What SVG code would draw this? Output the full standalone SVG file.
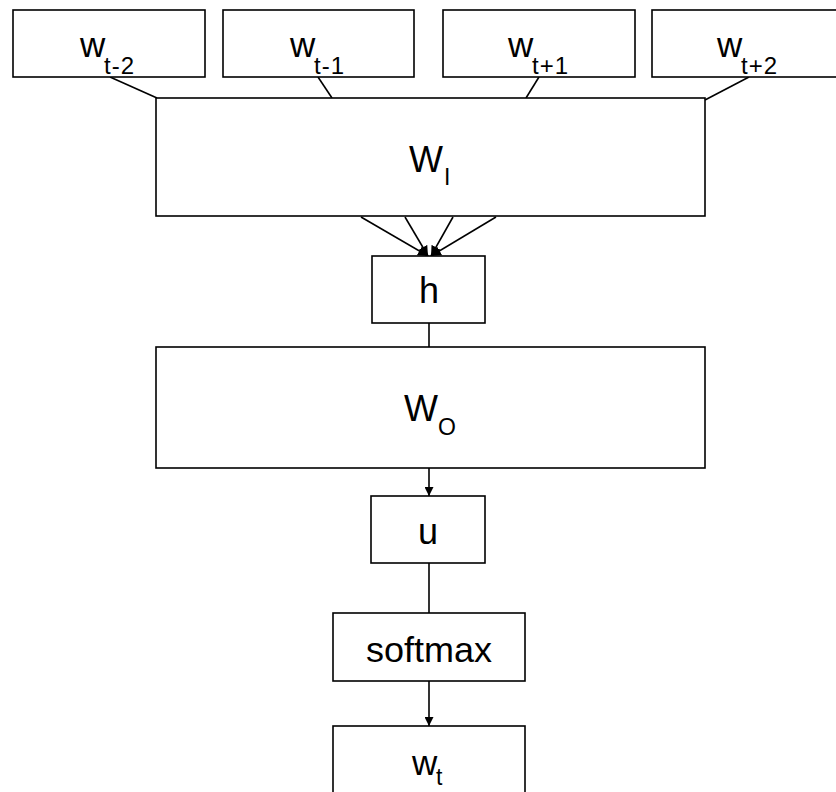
<svg xmlns="http://www.w3.org/2000/svg" width="836" height="792" viewBox="0 0 836 792">
<style>
.box{fill:#fff;stroke:#000;stroke-width:1.6}
.ln{stroke:#000;stroke-width:1.6;fill:none}
.t{font-family:"Liberation Sans",Arial,sans-serif;fill:#000}
.m{font-size:35px}
.s{font-size:24px;letter-spacing:1px}
</style>
<defs>
<marker id="ah" viewBox="0 0 10 10" refX="10" refY="5" markerWidth="9" markerHeight="9" markerUnits="userSpaceOnUse" orient="auto">
<path d="M0,0 L10,5 L0,10 z" fill="#000"/>
</marker>
<marker id="ah2" viewBox="0 0 10 10" refX="10" refY="5" markerWidth="10" markerHeight="10" markerUnits="userSpaceOnUse" orient="auto">
<path d="M0,0 L10,5 L0,10 z" fill="#000"/>
</marker>
</defs>
<g id="connectors">
<line class="ln" x1="110" y1="77" x2="157" y2="98"/>
<line class="ln" x1="318" y1="77" x2="332" y2="98"/>
<line class="ln" x1="539" y1="77" x2="526" y2="98"/>
<line class="ln" x1="749" y1="77" x2="705" y2="100"/>
<line class="ln" x1="361" y1="217" x2="428" y2="256" marker-end="url(#ah2)"/>
<line class="ln" x1="405" y1="217" x2="428" y2="256" marker-end="url(#ah2)"/>
<line class="ln" x1="453" y1="217" x2="431" y2="256" marker-end="url(#ah2)"/>
<line class="ln" x1="496" y1="217" x2="431" y2="256" marker-end="url(#ah2)"/>
<line class="ln" x1="429" y1="323" x2="429" y2="347"/>
<line class="ln" x1="429" y1="468" x2="429" y2="496" marker-end="url(#ah)"/>
<line class="ln" x1="429" y1="563" x2="429" y2="613"/>
<line class="ln" x1="429" y1="681" x2="429" y2="726" marker-end="url(#ah)"/>
</g>
<g id="n-wt-2"><rect class="box" x="13" y="10" width="192" height="67"/><text class="t m" x="80" y="57">w</text><text class="t s" x="104" y="74">t-2</text></g>
<g id="n-wt-1"><rect class="box" x="223" y="10" width="191" height="67"/><text class="t m" x="290" y="57">w</text><text class="t s" x="314" y="74">t-1</text></g>
<g id="n-wt+1"><rect class="box" x="443" y="10" width="192" height="67"/><text class="t m" x="508" y="57">w</text><text class="t s" x="532" y="74">t+1</text></g>
<g id="n-wt+2"><rect class="box" x="652" y="10" width="200" height="67"/><text class="t m" x="717" y="57">w</text><text class="t s" x="741" y="74">t+2</text></g>
<g id="n-WI"><rect class="box" x="156" y="98" width="549" height="118"/><text class="t" x="409" y="172" font-size="36">W</text><text class="t" x="444" y="185" font-size="23">I</text></g>
<g id="n-h"><rect class="box" x="372" y="256" width="113" height="67"/><text class="t" x="429" y="303" font-size="36" text-anchor="middle">h</text></g>
<g id="n-WO"><rect class="box" x="156" y="347" width="549" height="121"/><text class="t" x="404" y="421" font-size="36">W</text><text class="t" x="438" y="435" font-size="23">O</text></g>
<g id="n-u"><rect class="box" x="371" y="496" width="114" height="67"/><text class="t" x="428" y="544" font-size="36" text-anchor="middle">u</text></g>
<g id="n-softmax"><rect class="box" x="333" y="613" width="192" height="68"/><text class="t" x="366" y="662" font-size="35" textLength="126" lengthAdjust="spacingAndGlyphs">softmax</text></g>
<g id="n-wt"><rect class="box" x="333" y="726" width="192" height="80"/><text class="t" x="412" y="775" font-size="35">w</text><text class="t" x="436" y="785" font-size="23">t</text></g>
</svg>
